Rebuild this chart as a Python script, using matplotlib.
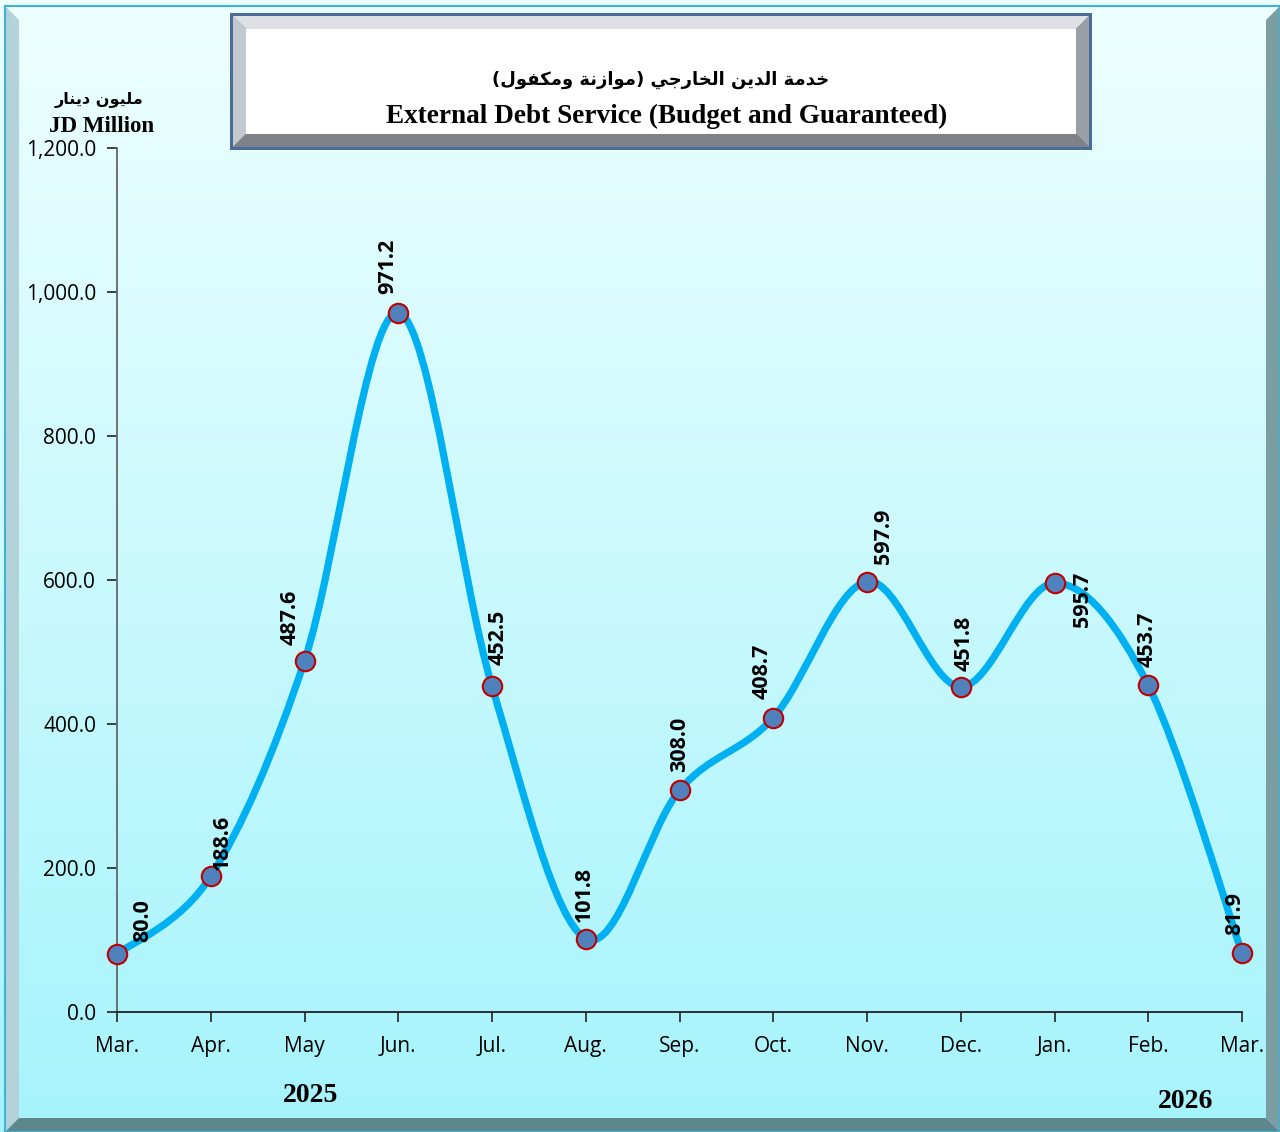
import numpy as np
import matplotlib
matplotlib.use("Agg")
import matplotlib.pyplot as plt
from matplotlib.path import Path
from matplotlib.patches import PathPatch, Polygon, Rectangle

# monthly external debt service, JD million
months = ["Mar.", "Apr.", "May", "Jun.", "Jul.", "Aug.", "Sep.", "Oct.", "Nov.", "Dec.", "Jan.", "Feb.", "Mar."]
values = [80.0, 188.6, 487.6, 971.2, 452.5, 101.8, 308.0, 408.7, 597.9, 451.8, 595.7, 453.7, 81.9]
yticks = [0, 200, 400, 600, 800, 1000, 1200]

title_ar = "خدمة الدين الخارجي (موازنة ومكفول)"
title_en = "External Debt Service (Budget and Guaranteed)"
unit_ar = "مليون دينار"
unit_en = "JD Million"

# label offsets in pixels (dx, dy) from each marker
label_offsets = [(26, 12), (12, 6), (-14, 16), (-10, 19), (6, 21), (-1, 17), (0, 18),
                 (-11, 19), (16, 18), (3, 16), (28, -44), (-1, 18), (-7, 18)]

# --- tiny arabic shaper (matplotlib has no complex text layout) ---
FORMS = {
    'ا': (0xFE8D, 0xFE8E, None, None), 'ة': (0xFE93, 0xFE94, None, None),
    'ج': (0xFE9D, 0xFE9E, 0xFE9F, 0xFEA0), 'خ': (0xFEA5, 0xFEA6, 0xFEA7, 0xFEA8),
    'د': (0xFEA9, 0xFEAA, None, None), 'ر': (0xFEAD, 0xFEAE, None, None),
    'ز': (0xFEAF, 0xFEB0, None, None), 'ف': (0xFED1, 0xFED2, 0xFED3, 0xFED4),
    'ك': (0xFED9, 0xFEDA, 0xFEDB, 0xFEDC), 'ل': (0xFEDD, 0xFEDE, 0xFEDF, 0xFEE0),
    'م': (0xFEE1, 0xFEE2, 0xFEE3, 0xFEE4), 'ن': (0xFEE5, 0xFEE6, 0xFEE7, 0xFEE8),
    'و': (0xFEED, 0xFEEE, None, None), 'ي': (0xFEF1, 0xFEF2, 0xFEF3, 0xFEF4),
}


def shape_ar(s):
    out = []
    for i, ch in enumerate(s):
        if ch not in FORMS:
            out.append({'(': ')', ')': '('}.get(ch, ch))
            continue
        iso, fin, ini, med = FORMS[ch]
        prev = s[i - 1] if i > 0 else ''
        nxt = s[i + 1] if i + 1 < len(s) else ''
        join_prev = prev in FORMS and FORMS[prev][2] is not None
        join_next = ini is not None and nxt in FORMS
        if join_prev and join_next:
            out.append(chr(med))
        elif join_prev:
            out.append(chr(fin))
        elif join_next:
            out.append(chr(ini))
        else:
            out.append(chr(iso))
    return ''.join(reversed(out))


W, H = 1280, 1132
fig = plt.figure(figsize=(W / 100, H / 100), dpi=100)


def px(x, y):
    return (x / W, 1 - y / H)


# gradient background
bg = fig.add_axes([0, 0, 1, 1], zorder=-10)
grad = np.linspace(0, 1, 256).reshape(-1, 1)
c_top = np.array([0.935, 1.0, 1.0])
c_bot = np.array([0.65, 0.955, 0.99])
img = c_top + (c_bot - c_top) * grad[:, :, None]
bg.imshow(img, aspect='auto', extent=[0, 1, 0, 1])
bg.set_xlim(0, 1)
bg.set_ylim(0, 1)
bg.axis('off')

# outer frame with bevel
fig.patches.append(Polygon([px(5, 6), px(19, 20), px(19, 1118), px(5, 1132)], closed=True,
                           transform=fig.transFigure, facecolor='#b4d2d9', edgecolor='none'))
fig.patches.append(Polygon([px(1280, 6), px(1266, 20), px(1266, 1118), px(1280, 1132)], closed=True,
                           transform=fig.transFigure, facecolor='#7b9ea3', edgecolor='none'))
fig.patches.append(Polygon([px(5, 1132), px(19, 1118), px(1266, 1118), px(1280, 1132)], closed=True,
                           transform=fig.transFigure, facecolor='#5e868d', edgecolor='none'))
fig.patches.append(Rectangle(px(5, 1132), 1275 / W, 1126 / H, transform=fig.transFigure,
                             facecolor='none', edgecolor='#3fb3d3', linewidth=1.5))

# title box with bevel
x0, y0, x1, y1, b = 230, 13, 1092, 150, 13
fig.patches.append(Rectangle(px(x0, y1), (x1 - x0) / W, (y1 - y0) / H, transform=fig.transFigure,
                             facecolor='#4a6c98', edgecolor='none'))
x0, y0, x1, y1 = x0 + 3, y0 + 3, x1 - 3, y1 - 3
fig.patches.append(Polygon([px(x0, y0), px(x1, y0), px(x1 - b, y0 + b), px(x0 + b, y0 + b)],
                           closed=True, transform=fig.transFigure, facecolor='#dde1e6', edgecolor='none'))
fig.patches.append(Polygon([px(x0, y0), px(x0 + b, y0 + b), px(x0 + b, y1 - b), px(x0, y1)],
                           closed=True, transform=fig.transFigure, facecolor='#c3c9cf', edgecolor='none'))
fig.patches.append(Polygon([px(x1, y0), px(x1, y1), px(x1 - b, y1 - b), px(x1 - b, y0 + b)],
                           closed=True, transform=fig.transFigure, facecolor='#9a9fa5', edgecolor='none'))
fig.patches.append(Polygon([px(x0, y1), px(x0 + b, y1 - b), px(x1 - b, y1 - b), px(x1, y1)],
                           closed=True, transform=fig.transFigure, facecolor='#7e8287', edgecolor='none'))
fig.patches.append(Rectangle(px(x0 + b, y1 - b), (x1 - x0 - 2 * b) / W, (y1 - y0 - 2 * b) / H,
                             transform=fig.transFigure, facecolor='white', edgecolor='none'))

fig.text(*px(661, 80), shape_ar(title_ar), ha='center', va='center', fontsize=13,
         fontweight='bold', family=['DejaVu Sans'])
fig.text(*px(667, 116), title_en, ha='center', va='center', fontsize=19.6,
         fontweight='bold', family=['Liberation Serif'])

# main axes
ax = fig.add_axes([117 / W, 1 - 1012 / H, (1242 - 117) / W, (1012 - 148) / H])
ax.set_facecolor('none')
x = np.arange(len(values))
pts = np.column_stack([x, values]).astype(float)

# smoothed line as cubic bezier segments (catmull-rom control points)
verts = [tuple(pts[0])]
codes = [Path.MOVETO]
n = len(pts)
for i in range(n - 1):
    p0 = pts[i - 1] if i > 0 else pts[i]
    p1, p2 = pts[i], pts[i + 1]
    p3 = pts[i + 2] if i + 2 < n else pts[i + 1]
    c1 = p1 + (p2 - p0) / 6
    c2 = p2 - (p3 - p1) / 6
    verts += [tuple(c1), tuple(c2), tuple(p2)]
    codes += [Path.CURVE4] * 3
ax.add_patch(PathPatch(Path(verts, codes), facecolor='none', edgecolor='#00b0f0',
                       linewidth=5.2, capstyle='round', zorder=2))
ax.plot(x, values, linestyle='none', marker='o', markersize=14, markerfacecolor='#4f81bd',
        markeredgecolor='#c00000', markeredgewidth=1.5, zorder=3, clip_on=False)

for xi, v, (dx, dy) in zip(x, values, label_offsets):
    ax.annotate(f"{v:.1f}", (xi, v), xytext=(dx, dy), textcoords='offset pixels',
                rotation=90, ha='center', va='bottom', fontsize=15.5, fontweight='bold',
                family=['Open Sans'], zorder=4)

ax.set_xlim(0, len(values) - 1)
ax.set_ylim(0, 1200)
ax.set_xticks(x)
ax.set_xticklabels(months, family=['Open Sans'], fontsize=15)
for lbl in ax.get_xticklabels():
    lbl.set_verticalalignment('baseline')
ax.set_yticks(yticks)
ax.set_yticklabels([f"{t:,.1f}" for t in yticks], family=['Open Sans'], fontsize=15)
ax.tick_params(axis='x', direction='out', length=7, width=1.2, pad=21.5, color='#222222')
ax.tick_params(axis='y', direction='out', length=7, width=1.2, pad=8, color='#222222')
for s in ['top', 'right']:
    ax.spines[s].set_visible(False)
ax.spines['left'].set_color('#666666')
ax.spines['bottom'].set_color('#222222')
ax.spines['left'].set_linewidth(1.3)
ax.spines['bottom'].set_linewidth(1.3)

# unit and year labels
fig.text(*px(99, 100), shape_ar(unit_ar), ha='center', va='center', fontsize=11.5,
         fontweight='bold', family=['DejaVu Sans'])
fig.text(*px(102, 127), unit_en, ha='center', va='center', fontsize=16.5,
         fontweight='bold', family=['Liberation Serif'])
fig.text(*px(311, 1095), "2025", ha='center', va='center', fontsize=20,
         fontweight='bold', family=['Liberation Serif'])
fig.text(*px(1186, 1101), "2026", ha='center', va='center', fontsize=20,
         fontweight='bold', family=['Liberation Serif'])

fig.savefig('out.png', dpi=100)
